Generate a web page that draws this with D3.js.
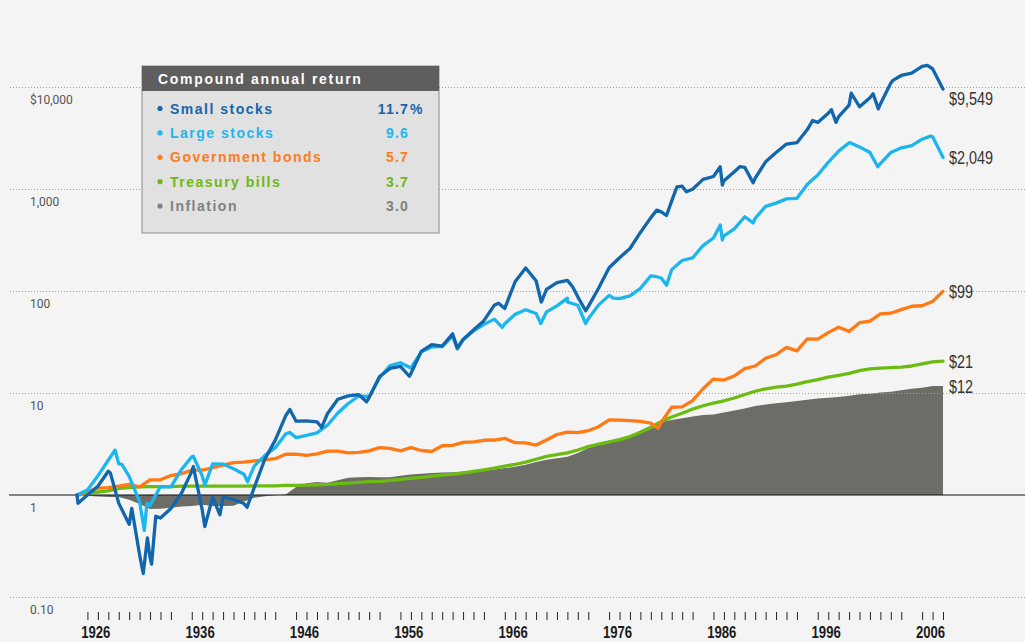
<!DOCTYPE html>
<html>
<head>
<meta charset="utf-8">
<script src="https://cdn.jsdelivr.net/npm/d3@7"></script>
<style>
  body { margin: 0; background: #f4f4f4; }
  svg { display: block; }
</style>
</head>
<body>
<div class="canvas"></div>
<script>
// growth of $1 invested at the end of 1925, year-end index values 1925..2008
const years = d3.range(1925, 2009);

const smallStocks = [
  1, 1.00, 1.22, 1.71, 0.832, 0.515, 0.259, 0.245, 0.594, 0.738,
  1.035, 1.705, 0.716, 0.951, 0.954, 0.905, 0.824, 1.19, 2.24, 3.45,
  5.98, 5.29, 5.34, 5.22, 6.26, 8.68, 9.36, 9.64, 9.01, 14.5,
  17.4, 18.2, 15.5, 25.6, 29.8, 28.8, 38.1, 33.5, 41.5, 51.2,
  72.6, 67.5, 124, 168, 126, 104, 121, 127, 87.6, 70.2,
  107, 169, 212, 261, 375, 524, 597, 764, 1067, 996,
  1242, 1327, 1203, 1478, 1629, 1278, 1848, 2280, 2758, 2844,
  3823, 4497, 5522, 5118, 6643, 6404, 7862, 6818, 10957, 12972,
  13710, 15927, 15096, 9549
];
const largeStocks = [
  1, 1.12, 1.54, 2.20, 2.02, 1.52, 0.859, 0.789, 1.21, 1.20,
  1.77, 2.37, 1.54, 2.02, 2.01, 1.81, 1.60, 1.93, 2.43, 2.91,
  3.97, 3.65, 3.85, 4.07, 4.83, 6.36, 7.89, 9.34, 9.24, 14.1,
  18.6, 19.8, 17.6, 25.3, 28.3, 28.5, 36.1, 33.0, 40.5, 47.1,
  53.0, 47.7, 59.1, 65.6, 60.1, 62.5, 71.4, 85.0, 72.5, 53.3,
  73.1, 90.6, 84.1, 89.6, 106, 141, 134, 162, 199, 211,
  279, 331, 348, 406, 534, 517, 676, 727, 800, 811,
  1114, 1371, 1828, 2351, 2846, 2587, 2279, 1775, 2285, 2533,
  2658, 3077, 3246, 2049
];
const govBonds = [
  1, 1.08, 1.17, 1.18, 1.22, 1.27, 1.20, 1.41, 1.41, 1.55,
  1.62, 1.75, 1.75, 1.85, 1.96, 2.08, 2.10, 2.16, 2.21, 2.27,
  2.51, 2.51, 2.45, 2.53, 2.69, 2.69, 2.59, 2.62, 2.71, 2.91,
  2.87, 2.71, 2.91, 2.73, 2.67, 3.04, 3.07, 3.28, 3.32, 3.44,
  3.46, 3.59, 3.26, 3.25, 3.09, 3.46, 3.92, 4.14, 4.09, 4.27,
  4.67, 5.45, 5.41, 5.35, 5.28, 5.07, 5.17, 7.25, 7.30, 8.43,
  11.0, 13.7, 13.4, 14.7, 17.3, 18.4, 21.9, 23.7, 28.0, 25.9,
  34.0, 33.7, 39.1, 44.2, 40.2, 48.9, 50.7, 59.7, 60.6, 65.7,
  70.9, 71.7, 78.8, 99.2
];
const tBills = [
  1, 1.03, 1.07, 1.10, 1.16, 1.18, 1.20, 1.21, 1.21, 1.21,
  1.22, 1.22, 1.22, 1.22, 1.22, 1.22, 1.22, 1.23, 1.23, 1.23,
  1.24, 1.24, 1.25, 1.26, 1.27, 1.29, 1.31, 1.33, 1.35, 1.36,
  1.39, 1.42, 1.46, 1.49, 1.53, 1.57, 1.60, 1.65, 1.70, 1.76,
  1.83, 1.92, 2.00, 2.10, 2.24, 2.39, 2.49, 2.59, 2.76, 2.99,
  3.16, 3.32, 3.49, 3.74, 4.13, 4.59, 5.27, 5.82, 6.34, 6.96,
  7.50, 7.96, 8.39, 8.93, 9.67, 10.4, 11.0, 11.4, 11.7, 12.2,
  12.9, 13.5, 14.3, 14.9, 15.6, 16.6, 17.2, 17.5, 17.7, 17.9,
  18.4, 19.3, 20.2, 20.5
];
const inflation = [
  1, 0.985, 0.964, 0.955, 0.957, 0.899, 0.814, 0.730, 0.734, 0.749,
  0.771, 0.780, 0.804, 0.782, 0.778, 0.786, 0.862, 0.942, 0.972, 0.992,
  1.014, 1.196, 1.305, 1.342, 1.317, 1.394, 1.477, 1.490, 1.499, 1.492,
  1.497, 1.540, 1.587, 1.615, 1.639, 1.663, 1.674, 1.695, 1.723, 1.743,
  1.777, 1.836, 1.892, 1.981, 2.102, 2.218, 2.292, 2.371, 2.579, 2.894,
  3.097, 3.246, 3.466, 3.778, 4.281, 4.812, 5.242, 5.445, 5.652, 5.875,
  6.097, 6.166, 6.438, 6.722, 7.034, 7.464, 7.693, 7.916, 8.133, 8.351,
  8.563, 8.847, 8.998, 9.143, 9.389, 9.707, 9.857, 10.091, 10.281, 10.616,
  10.980, 11.254, 11.707, 11.716
];

// mid-year highs and lows: [time, value]
const smallTurns = [
  [1926.1, 0.83], [1929.2, 1.64], [1931.25, 0.74], [1932.35, 0.17], [1932.75, 0.38],
  [1933.15, 0.21], [1933.55, 0.62], [1937.15, 1.9], [1938.25, 0.49], [1939.7, 0.64],
  [1942.3, 0.76], [1946.4, 6.9], [1949.45, 4.6], [1953.75, 8.2], [1957.85, 14.6],
  [1962.45, 27.6], [1966.4, 76], [1970.5, 78], [1973.5, 110], [1974.75, 64],
  [1981.55, 620], [1982.5, 550], [1983.5, 1050], [1984.4, 940], [1987.65, 1650],
  [1987.85, 1090], [1989.55, 1660], [1990.8, 1150], [1996.5, 4700], [1998.3, 6000],
  [1998.75, 4500], [2000.2, 8700], [2002.3, 8600], [2002.8, 6100], [2004.2, 11600],
  [2007.5, 16300]
];
const largeTurns = [
  [1929.65, 2.76], [1930.3, 2.0], [1932.45, 0.45], [1932.7, 0.83], [1937.15, 2.4],
  [1938.25, 1.25], [1942.35, 1.35], [1946.4, 4.1], [1962.45, 27], [1966.75, 44],
  [1970.45, 48], [1973.0, 78], [1974.75, 48], [1977.4, 85], [1981.55, 138],
  [1982.5, 114], [1987.65, 443], [1987.85, 316], [1990.8, 465], [2000.25, 2800],
  [2002.75, 1650], [2007.8, 3300]
];
const bondTurns = [[1981.7, 4.5]];

// legend + end labels
const legendNames = ['Small stocks', 'Large stocks', 'Government bonds', 'Treasury bills', 'Inflation'];
const legendRates = ['11.7', '9.6', '5.7', '3.7', '3.0'];
const endLabels = ['$9,549', '$2,049', '$99', '$21', '$12'];
const colors = ['#1266ac', '#1bb6ee', '#ff7a14', '#6cbb10', '#6d6d67'];
const legendColors = ['#1565ad', '#1eb6ee', '#ff7b1a', '#6fb814', '#808080'];

// axis ticks
const yTicks = [10000, 1000, 100, 10, 1, 0.1];
const yTickLabels = ['$10,000', '1,000', '100', '10', '1', '0.10'];
const decadeLabels = d3.range(1926, 2007, 10);
const yearTicks = d3.range(1927, 2010).filter(t => t % 10 !== 6);

const dims = { width: 1025, height: 642 };

const svg = d3.select('.canvas')
  .append('svg')
  .attr('width', dims.width)
  .attr('height', dims.height);

// year-end of Y sits at time Y + 1
const x = d3.scaleLinear().domain([1926, 2009]).range([77, 943]);
const y = d3.scaleLog().domain([0.1, 10000]).range([597, 87]);

const buildSeries = (annual, turns) =>
  years.map((yr, i) => ({ t: yr + 1, v: annual[i] }))
    .concat(turns.map(([t, v]) => ({ t, v })))
    .sort((a, b) => a.t - b.t);

const series = [
  buildSeries(smallStocks, smallTurns),
  buildSeries(largeStocks, largeTurns),
  buildSeries(govBonds, bondTurns),
  buildSeries(tBills, []),
  buildSeries(inflation, [])
];

// inflation as a filled area around the $1 line
const area = d3.area()
  .x(d => x(d.t))
  .y0(y(1))
  .y1(d => y(d.v));

svg.append('path')
  .datum(series[4])
  .attr('d', area)
  .attr('fill', colors[4]);

// dotted gridlines
const grid = svg.append('g')
  .attr('transform', `translate(${dims.width}, 0)`)
  .call(d3.axisLeft(y).tickValues(yTicks.filter(v => v !== 1)).tickSize(dims.width - 8).tickFormat(''));
grid.select('.domain').remove();
grid.selectAll('line')
  .attr('stroke', '#9aa4aa')
  .attr('stroke-width', 1)
  .attr('stroke-dasharray', '1,2');

// solid $1 line
svg.append('line')
  .attr('x1', 9).attr('x2', dims.width)
  .attr('y1', y(1)).attr('y2', y(1))
  .attr('stroke', '#111')
  .attr('stroke-width', 1.2);

// y labels
svg.append('g').selectAll('text')
  .data(yTicks)
  .enter().append('text')
    .attr('x', 30)
    .attr('y', d => y(d) + 17)
    .text((d, i) => yTickLabels[i])
    .attr('font-family', 'Roboto, "Liberation Sans", sans-serif')
    .attr('font-size', 12)
    .attr('fill', '#555');

// lines, drawn bottom series first
const line = d3.line()
  .x(d => x(d.t))
  .y(d => y(d.v));

[3, 2, 1, 0].forEach(i => {
  svg.append('path')
    .datum(series[i])
    .attr('d', line)
    .attr('fill', 'none')
    .attr('stroke', colors[i])
    .attr('stroke-width', 3.3)
    .attr('stroke-linejoin', 'round')
    .attr('stroke-linecap', 'round');
});

// end labels (condensed look via horizontal squeeze)
const labelShift = [9, 0, 0, 0, 1];
svg.append('g').selectAll('text')
  .data(series)
  .enter().append('text')
    .attr('transform', (d, i) => `translate(949, ${y(d[d.length - 1].v) + labelShift[i] + 6.5}) scale(0.8, 1)`)
    .text((d, i) => endLabels[i])
    .attr('font-family', '"Liberation Sans", Arial, sans-serif')
    .attr('font-size', 18)
    .attr('fill', '#333');

// x axis: small year ticks, gap at each decade label
const xAxis = svg.append('g')
  .attr('transform', 'translate(0, 612)')
  .call(d3.axisBottom(x).tickValues(yearTicks).tickSize(8).tickFormat(''));
xAxis.select('.domain').remove();
xAxis.selectAll('line').attr('stroke', '#222');

svg.append('g').selectAll('text')
  .data(decadeLabels)
  .enter().append('text')
    .attr('transform', d => `translate(${x(d + 1.8)}, 638) scale(0.82, 1)`)
    .attr('text-anchor', 'middle')
    .text(d => d)
    .attr('font-family', '"Liberation Sans", Arial, sans-serif')
    .attr('font-weight', 'bold')
    .attr('font-size', 16)
    .attr('fill', '#1a1a1a');

// legend box
const legend = svg.append('g').attr('transform', 'translate(142, 66)');
legend.append('rect')
  .attr('width', 297).attr('height', 167)
  .attr('fill', '#e1e1e1')
  .attr('stroke', '#8a8a8a');
legend.append('rect')
  .attr('width', 297).attr('height', 25)
  .attr('fill', '#5e5e5e');
legend.append('text')
  .attr('x', 16).attr('y', 17.5)
  .text('Compound annual return')
  .attr('font-family', '"Liberation Sans", Arial, sans-serif')
  .attr('font-weight', 'bold')
  .attr('font-size', 14)
  .attr('letter-spacing', 1.7)
  .attr('fill', '#fff');

const items = legend.selectAll('.item')
  .data(legendNames)
  .enter().append('g')
    .attr('class', 'item')
    .attr('transform', (d, i) => `translate(0, ${47.5 + i * 24.4})`);

items.append('circle')
  .attr('cx', 18).attr('cy', -5).attr('r', 2.6)
  .attr('fill', (d, i) => legendColors[i]);
items.append('text')
  .attr('x', 28)
  .text(d => d)
  .attr('font-family', '"Liberation Sans", Arial, sans-serif')
  .attr('font-weight', 'bold')
  .attr('font-size', 14)
  .attr('letter-spacing', 1.5)
  .attr('fill', (d, i) => legendColors[i]);
items.append('text')
  .attr('x', 267)
  .attr('text-anchor', 'end')
  .text((d, i) => legendRates[i])
  .attr('font-family', '"Liberation Sans", Arial, sans-serif')
  .attr('font-weight', 'bold')
  .attr('font-size', 14)
  .attr('letter-spacing', 1.2)
  .attr('fill', (d, i) => legendColors[i]);
items.filter((d, i) => i === 0).append('text')
  .attr('x', 268)
  .text('%')
  .attr('font-family', '"Liberation Sans", Arial, sans-serif')
  .attr('font-weight', 'bold')
  .attr('font-size', 14)
  .attr('fill', legendColors[0]);
</script>
</body>
</html>
